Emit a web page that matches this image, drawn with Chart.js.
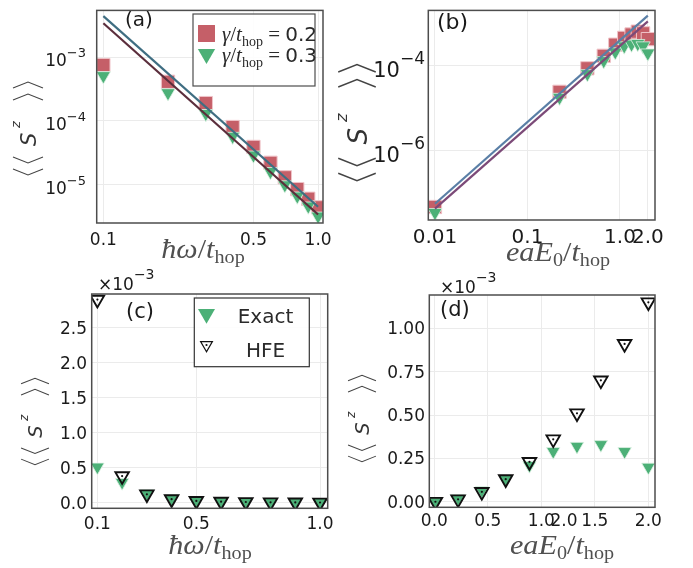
<!DOCTYPE html>
<html>
<head>
<meta charset="utf-8">
<script src="https://cdn.jsdelivr.net/npm/chart.js@4.4.1/dist/chart.umd.min.js"></script>
<style>
html, body { margin: 0; padding: 0; background: #fff; }
#wrap { position: relative; width: 693px; height: 568px; }
#wrap canvas { position: absolute; left: 0; top: 0; }
</style>
</head>
<body>
<div id="wrap">
  <canvas id="pa" width="693" height="568"></canvas>
  <canvas id="pb" width="693" height="568"></canvas>
  <canvas id="pc" width="693" height="568"></canvas>
  <canvas id="pd" width="693" height="568"></canvas>
</div>
<script>
const omega = [0.1, 0.2, 0.3, 0.4, 0.5, 0.6, 0.7, 0.8, 0.9, 1.0]
const field = [0.01, 0.222, 0.444, 0.667, 0.889, 1.111, 1.333, 1.556, 1.778, 2.0]

// (a) <<S^z>> vs hbar*omega for gamma = 0.2 and 0.3
const szOmegaG02 = [7.5e-4, 4.1e-4, 1.9e-4, 8.0e-5, 3.9e-5, 2.2e-5, 1.3e-5, 8.5e-6, 6.0e-6, 4.4e-6]
const szOmegaG03 = [5.1e-4, 2.75e-4, 1.3e-4, 5.7e-5, 2.9e-5, 1.6e-5, 9.9e-6, 6.6e-6, 4.6e-6, 3.2e-6]
const fitOmegaX = [0.1, 1.0]
const fitOmegaG02 = [4.4e-3, 4.5e-6]
const fitOmegaG03 = [3.4e-3, 3.4e-6]

// (b) <<S^z>> vs eaE0
const szFieldG02 = [4.6e-8, 2.4e-5, 8.6e-5, 1.7e-4, 3.1e-4, 4.5e-4, 5.4e-4, 6.3e-4, 5.75e-4, 4.2e-4]
const szFieldG03 = [3.4e-8, 1.77e-5, 6.4e-5, 1.3e-4, 2.1e-4, 2.9e-4, 3.2e-4, 3.3e-4, 2.9e-4, 1.97e-4]
const fitFieldX = [0.01, 2.0]
const fitFieldG02 = [5.5e-8, 1.5e-3]
const fitFieldG03 = [4.2e-8, 1.1e-3]

// (c), (d) exact vs high-frequency expansion, in units of 1e-3
const exactOmega = [0.51, 0.29, 0.13, 0.057, 0.029, 0.016, 0.0099, 0.0066, 0.0046, 0.0032]
const hfeOmega = [2.9, 0.38, 0.12, 0.05, 0.026, 0.015, 0.01, 0.006, 0.004, 0.003]
const exactField = [0.00003, 0.018, 0.064, 0.13, 0.21, 0.29, 0.32, 0.33, 0.29, 0.2]
const hfeField = [0.0, 0.014, 0.057, 0.13, 0.23, 0.36, 0.51, 0.70, 0.91, 1.15]

// tick values and labels
const ticksAx = [0.1, 0.5, 1.0], labelsAx = ['0.1', '0.5', '1.0']
const ticksAy = [1e-3, 1e-4, 1e-5], expAy = ['\u22123', '\u22124', '\u22125']
const ticksBx = [0.01, 0.1, 1.0, 2.0], labelsBx = ['0.01', '0.1', '1.0', '2.0']
const ticksBy = [1e-4, 1e-6], expBy = ['\u22124', '\u22126']
const ticksCx = [0.1, 0.5, 1.0], labelsCx = ['0.1', '0.5', '1.0']
const ticksCy = [0, 0.5, 1.0, 1.5, 2.0, 2.5], labelsCy = ['0.0', '0.5', '1.0', '1.5', '2.0', '2.5']
const ticksDx = [0, 0.5, 1.0, 1.5, 2.0], labelsDx = ['0.0', '0.5', '1.0', '1.5', '2.0']
const ticksDy = [0, 0.25, 0.5, 0.75, 1.0], labelsDy = ['0.00', '0.25', '0.50', '0.75', '1.00']

const RED = '#c55f68', RED_EDGE = '#f0c4c9'
const GREEN = '#4cb077', GREEN_EDGE = '#dff3e6'
const SANS = '"DejaVu Sans"', SERIF = '"Liberation Serif"'

const pts = (xs, ys) => xs.map((x, i) => ({ x: x, y: ys[i] }))

function squares(data) {
    return { data: data, showLine: false, pointStyle: 'rect', pointRadius: 9.4, pointHoverRadius: 9.4,
        backgroundColor: RED, borderColor: RED_EDGE, borderWidth: 1, order: 3 }
}
function greenTri(data, r) {
    return { data: data, showLine: false, pointStyle: 'triangle', rotation: 180, pointRadius: r, pointHoverRadius: r,
        backgroundColor: GREEN, borderColor: GREEN_EDGE, borderWidth: 0.8, order: 2 }
}
function hfeTri(data) {
    return { data: data, showLine: false, pointStyle: 'triangle', rotation: 180, pointRadius: 7.8, pointHoverRadius: 7.8,
        backgroundColor: 'rgba(0,0,0,0)', borderColor: '#111', borderWidth: 1.9, order: 1 }
}
function hfeDot(data) {
    return { data: data, showLine: false, pointStyle: 'circle', pointRadius: 1.1, pointHoverRadius: 1.1,
        backgroundColor: '#111', borderWidth: 0, order: 0 }
}
function fitLine(data, color) {
    return { data: data, showLine: true, pointRadius: 0, borderColor: color, borderWidth: 2.2, order: 0 }
}

// draws a row of text pieces; each piece = [text, font, dy]; sx widens the row
function runs(ctx, parts, x, y, align, sx) {
    sx = sx || 1
    let w = 0
    parts.forEach(p => { ctx.font = p[1]; p.w = ctx.measureText(p[0]).width; w += p.w })
    const x0 = align === 'right' ? x - w * sx : align === 'center' ? x - w * sx / 2 : x
    ctx.save()
    ctx.translate(x0, y)
    ctx.scale(sx, 1)
    ctx.textAlign = 'left'
    let cx = 0
    parts.forEach(p => { ctx.font = p[1]; ctx.fillText(p[0], cx, p[2] || 0); cx += p.w })
    ctx.restore()
}

// <<S^z>> axis label, written upwards
function szLabel(ctx, cx, cy, k) {
    ctx.save()
    ctx.translate(cx, cy)
    ctx.rotate(-Math.PI / 2)
    ctx.scale(k, k)
    ctx.strokeStyle = '#444'
    ctx.lineWidth = 1.1
    const chev = (tip, dir) => {
        ctx.beginPath()
        ctx.moveTo(tip + dir * 6, -15)
        ctx.lineTo(tip, 0)
        ctx.lineTo(tip + dir * 6, 15)
        ctx.stroke()
    }
    chev(-47, 1); chev(-35, 1); chev(34, -1); chev(46, -1)
    ctx.fillStyle = '#333'
    ctx.textAlign = 'left'
    ctx.textBaseline = 'alphabetic'
    ctx.font = 'italic 21px ' + SANS
    ctx.fillText('S', -18, 8)
    ctx.font = 'italic 13px ' + SANS
    ctx.fillText('z', 0, -8)
    ctx.restore()
}

function fixedTicks(vals) {
    return s => { s.ticks = vals.map(v => ({ value: v })) }
}

function axis(type, min, max, vals) {
    return {
        type: type, min: min, max: max,
        afterBuildTicks: fixedTicks(vals),
        ticks: { display: false },
        grid: { color: '#ebebeb', lineWidth: 1, drawTicks: false },
        border: { display: false }
    }
}

function decor(draw) {
    return {
        id: 'decor',
        afterDraw(chart) {
            const ctx = chart.ctx, a = chart.chartArea
            ctx.save()
            ctx.strokeStyle = '#4d4d4d'
            ctx.lineWidth = 1.5
            ctx.strokeRect(a.left, a.top, a.right - a.left, a.bottom - a.top)
            ctx.fillStyle = '#1a1a1a'
            ctx.textBaseline = 'alphabetic'
            draw(ctx, chart.scales.x, chart.scales.y, a)
            ctx.restore()
        }
    }
}

function panel(id, area, xScale, yScale, datasets, draw) {
    return new Chart(document.getElementById(id), {
        type: 'scatter',
        data: { datasets: datasets },
        options: {
            responsive: false,
            animation: false,
            events: [],
            layout: { padding: { left: area[0], top: area[1], right: 693 - area[2], bottom: 568 - area[3] } },
            scales: { x: xScale, y: yScale },
            plugins: { legend: { display: false }, tooltip: { enabled: false } }
        },
        plugins: [decor(draw)]
    })
}

function xLabels(ctx, sx, vals, labels, y, font) {
    ctx.font = font
    ctx.textAlign = 'center'
    vals.forEach((v, i) => ctx.fillText(labels[i], sx.getPixelForValue(v), y))
}
function yLabels(ctx, sy, vals, labels, x, font) {
    ctx.font = font
    ctx.textAlign = 'right'
    vals.forEach((v, i) => ctx.fillText(labels[i], x, sy.getPixelForValue(v) + 6))
}
function yPowers(ctx, sy, vals, exps, x, size, supSize, lift) {
    vals.forEach((v, i) => {
        const y = sy.getPixelForValue(v)
        runs(ctx, [['10', size + 'px ' + SANS, 0], [exps[i], supSize + 'px ' + SANS, -lift]], x, y + size * 0.55, 'right')
    })
}
function omegaTitle(ctx, x, y) {
    ctx.fillStyle = '#505050'
    runs(ctx, [['\u0127\u03c9', 'italic 27px ' + SERIF], ['/', '27px ' + SERIF], ['t', 'italic 27px ' + SERIF],
        ['hop', '18px ' + SERIF, 5]], x, y, 'center', 1.12)
}
function fieldTitle(ctx, x, y) {
    ctx.fillStyle = '#505050'
    runs(ctx, [['eaE', 'italic 27px ' + SERIF], ['0', '18px ' + SERIF, 5], ['/', '27px ' + SERIF],
        ['t', 'italic 27px ' + SERIF], ['hop', '18px ' + SERIF, 5]], x, y, 'center', 1.12)
}
function timesTen(ctx, x, y) {
    ctx.fillStyle = '#1a1a1a'
    runs(ctx, [['\u00d710', '17px ' + SANS], ['\u22123', '14px ' + SANS, -11]], x, y, 'left')
}
function marker(ctx, style, r, x, y, fill, edge, bw) {
    ctx.fillStyle = fill
    ctx.strokeStyle = edge
    Chart.helpers.drawPoint(ctx, { pointStyle: style, radius: r, rotation: style === 'triangle' ? 180 : 0, borderWidth: bw }, x, y)
}

panel('pa', [96.7, 6.7, 323, 223],
    axis('logarithmic', 0.0931, 1.054, ticksAx),
    axis('logarithmic', 2.5e-6, 5.4e-3, ticksAy),
    [fitLine(pts(fitOmegaX, fitOmegaG02), '#3f6e82'), fitLine(pts(fitOmegaX, fitOmegaG03), '#5b2e3c'),
     greenTri(pts(omega, szOmegaG03), 8.2), squares(pts(omega, szOmegaG02))],
    (ctx, sx, sy) => {
        xLabels(ctx, sx, ticksAx, labelsAx, 245, '17px ' + SANS)
        yPowers(ctx, sy, ticksAy, expAy, 86, 17, 13, 9)
        omegaTitle(ctx, 203, 258)
        ctx.textAlign = 'left'
        ctx.font = '20px ' + SANS
        ctx.fillStyle = '#1a1a1a'
        ctx.fillText('(a)', 125, 25.5)
        // legend
        ctx.fillStyle = 'rgba(255,255,255,0.9)'
        ctx.fillRect(193, 14, 122, 72)
        ctx.strokeStyle = '#4d4d4d'
        ctx.lineWidth = 1.2
        ctx.strokeRect(193, 14, 122, 72)
        marker(ctx, 'rect', 12, 206.5, 33.5, RED, RED_EDGE, 0)
        marker(ctx, 'triangle', 10, 206.5, 54, GREEN, GREEN_EDGE, 0)
        ctx.fillStyle = '#2a2a2a'
        const row = (val, y) => runs(ctx, [['\u03b3', 'italic 21px ' + SERIF], ['/', '21px ' + SERIF], ['t', 'italic 21px ' + SERIF],
            ['hop', '14px ' + SERIF, 5], [' = ', '21px ' + SERIF], [val, '20px ' + SANS]], 222, y, 'left')
        row('0.2', 41)
        row('0.3', 62)
    })

panel('pb', [428.3, 7.3, 655, 220],
    axis('logarithmic', 0.00847, 2.39, ticksBx),
    axis('logarithmic', 2.27e-8, 2.0e-3, ticksBy),
    [fitLine(pts(fitFieldX, fitFieldG02), '#5a7fa6'), fitLine(pts(fitFieldX, fitFieldG03), '#7c4a78'),
     greenTri(pts(field, szFieldG03), 8.2), squares(pts(field, szFieldG02))],
    (ctx, sx, sy) => {
        xLabels(ctx, sx, ticksBx, labelsBx, 243, '20px ' + SANS)
        yPowers(ctx, sy, ticksBy, expBy, 425, 21, 17, 13)
        fieldTitle(ctx, 558, 261)
        ctx.textAlign = 'left'
        ctx.font = '22px ' + SANS
        ctx.fillStyle = '#1a1a1a'
        ctx.fillText('(b)', 437, 29)
    })

panel('pc', [91.7, 294, 327.7, 508.3],
    axis('linear', 0.077, 1.031, ticksCx),
    axis('linear', -0.08, 2.98, ticksCy),
    [hfeDot(pts(omega, hfeOmega)), hfeTri(pts(omega, hfeOmega)), greenTri(pts(omega, exactOmega), 7.8)],
    (ctx, sx, sy) => {
        xLabels(ctx, sx, ticksCx, labelsCx, 529, '17px ' + SANS)
        yLabels(ctx, sy, ticksCy, labelsCy, 87, '17px ' + SANS)
        omegaTitle(ctx, 210, 554)
        timesTen(ctx, 98, 290)
        ctx.textAlign = 'left'
        ctx.font = '21px ' + SANS
        ctx.fillStyle = '#1a1a1a'
        ctx.fillText('(c)', 126, 317.5)
        // legend
        ctx.fillStyle = 'rgba(255,255,255,0.9)'
        ctx.fillRect(194.3, 298, 115, 68.7)
        ctx.strokeStyle = '#333'
        ctx.lineWidth = 1.2
        ctx.strokeRect(194.3, 298, 115, 68.7)
        marker(ctx, 'triangle', 9.8, 206.5, 314, GREEN, GREEN, 0)
        marker(ctx, 'triangle', 6.8, 206.5, 345, 'rgba(0,0,0,0)', '#111', 1.8)
        ctx.fillStyle = '#111'
        ctx.beginPath(); ctx.arc(206.5, 345, 1.1, 0, Math.PI * 2); ctx.fill()
        ctx.fillStyle = '#2a2a2a'
        ctx.font = '20px ' + SANS
        ctx.textAlign = 'center'
        ctx.fillText('Exact', 265.5, 323)
        ctx.fillText('HFE', 265.5, 357)
    })

panel('pd', [429.3, 295, 655, 507.3],
    axis('linear', -0.047, 2.062, ticksDx),
    axis('linear', -0.032, 1.192, ticksDy),
    [hfeDot(pts(field, hfeField)), hfeTri(pts(field, hfeField)), greenTri(pts(field, exactField), 7.8)],
    (ctx, sx, sy) => {
        xLabels(ctx, sx, ticksDx, labelsDx, 526, '17px ' + SANS)
        ctx.fillText('2.0', 564, 526)
        yLabels(ctx, sy, ticksDy, labelsDy, 425, '17px ' + SANS)
        fieldTitle(ctx, 562, 554)
        timesTen(ctx, 440, 293)
        ctx.textAlign = 'left'
        ctx.font = '21px ' + SANS
        ctx.fillStyle = '#1a1a1a'
        ctx.fillText('(d)', 440, 315.5)
    })

// y-axis titles
const overlay = document.getElementById('pd').getContext('2d')
szLabel(overlay, 28, 128, 1)
szLabel(overlay, 357, 122, 1.25)
szLabel(overlay, 35, 421, 0.93)
szLabel(overlay, 362, 418, 0.93)
</script>
</body>
</html>
